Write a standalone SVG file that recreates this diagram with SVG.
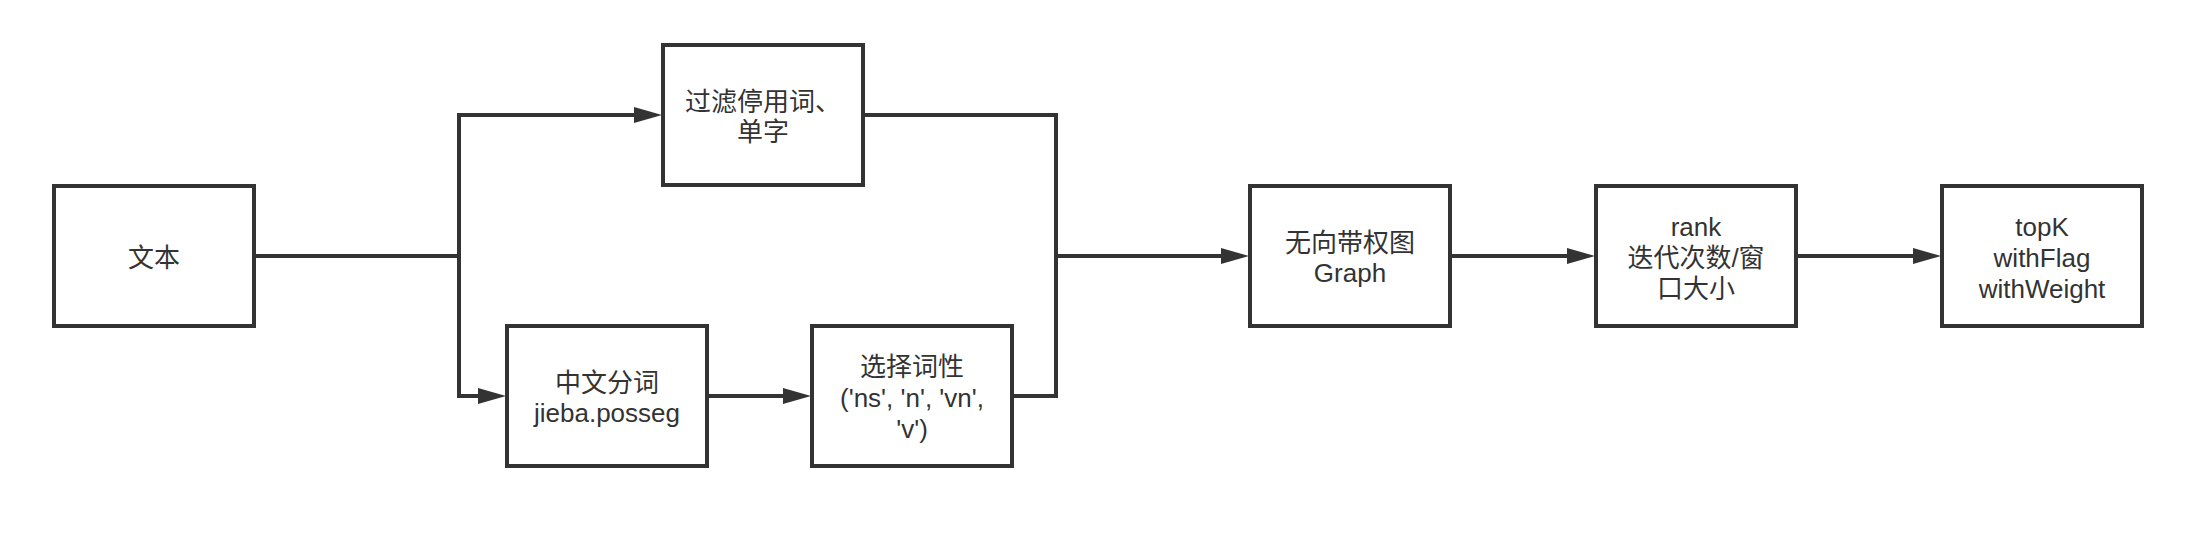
<svg xmlns="http://www.w3.org/2000/svg" width="2212" height="560" viewBox="0 0 2212 560">
<style>
.box{fill:#ffffff;stroke:#333333;stroke-width:4}
.lbl{font-family:"Liberation Sans","Noto Sans CJK SC",sans-serif;font-size:26px;fill:#333333;text-anchor:middle}
.con{fill:none;stroke:#333333;stroke-width:4;stroke-linejoin:miter}
</style>
<defs>
<marker id="arr" markerUnits="userSpaceOnUse" markerWidth="30" markerHeight="18" refX="1" refY="8" orient="auto" viewBox="0 0 30 18">
<path d="M0,0 L28,8 L0,16 Z" fill="#333333"/>
</marker>
</defs>
<rect width="2212" height="560" fill="#ffffff"/>
<g id="connectors">
<path class="con" d="M254,256 H459 V115 H635" marker-end="url(#arr)"/>
<path class="con" d="M459,256 V396 H479" marker-end="url(#arr)"/>
<path class="con" d="M707,396 H784" marker-end="url(#arr)"/>
<path class="con" d="M863,115 H1056 V256 H1222" marker-end="url(#arr)"/>
<path class="con" d="M1012,396 H1056 V256"/>
<path class="con" d="M1450,256 H1568" marker-end="url(#arr)"/>
<path class="con" d="M1796,256 H1914" marker-end="url(#arr)"/>
</g>
<g id="node-text">
<rect class="box" x="54" y="186" width="200" height="140"/>
<text class="lbl" x="154" y="267">文本</text>
</g>
<g id="node-filter">
<rect class="box" x="663" y="45" width="200" height="140"/>
<text class="lbl" x="763" y="111">过滤停用词、</text>
<text class="lbl" x="763" y="141">单字</text>
</g>
<g id="node-seg">
<rect class="box" x="507" y="326" width="200" height="140"/>
<text class="lbl" x="607" y="392">中文分词</text>
<text class="lbl" x="607" y="422">jieba.posseg</text>
</g>
<g id="node-pos">
<rect class="box" x="812" y="326" width="200" height="140"/>
<text class="lbl" x="912" y="376">选择词性</text>
<text class="lbl" x="912" y="407">('ns', 'n', 'vn',</text>
<text class="lbl" x="912" y="438">'v')</text>
</g>
<g id="node-graph">
<rect class="box" x="1250" y="186" width="200" height="140"/>
<text class="lbl" x="1350" y="252">无向带权图</text>
<text class="lbl" x="1350" y="282">Graph</text>
</g>
<g id="node-rank">
<rect class="box" x="1596" y="186" width="200" height="140"/>
<text class="lbl" x="1696" y="236">rank</text>
<text class="lbl" x="1696" y="267">迭代次数/窗</text>
<text class="lbl" x="1696" y="298">口大小</text>
</g>
<g id="node-topk">
<rect class="box" x="1942" y="186" width="200" height="140"/>
<text class="lbl" x="2042" y="236">topK</text>
<text class="lbl" x="2042" y="267">withFlag</text>
<text class="lbl" x="2042" y="298">withWeight</text>
</g>
</svg>
